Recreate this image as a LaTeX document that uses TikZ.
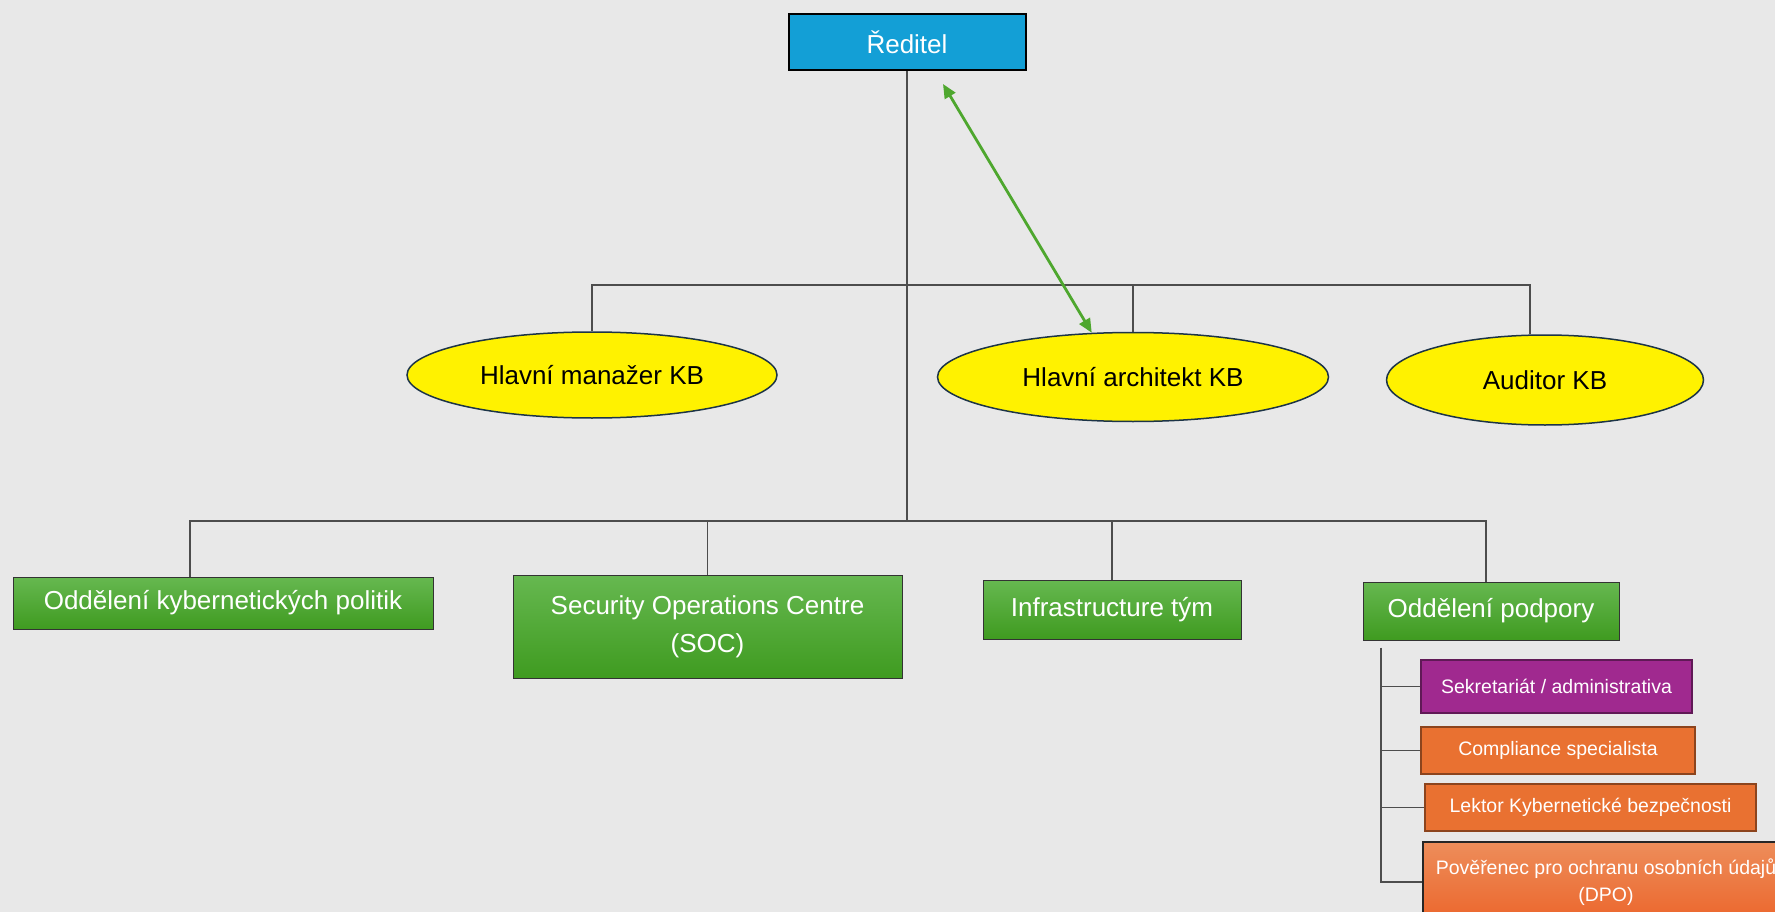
\documentclass[tikz,border=0pt]{standalone}
\usepackage{fontspec}
\setmainfont{Liberation Sans}
\usetikzlibrary{arrows.meta,shapes.geometric}
\definecolor{pozadi}{HTML}{E8E8E8}
\definecolor{modra}{HTML}{139FD6}
\definecolor{zelhore}{HTML}{66B850}
\definecolor{zeldole}{HTML}{3F9B20}
\definecolor{fialova}{HTML}{A0298F}
\definecolor{oranzova}{HTML}{E97131}
\definecolor{obrys}{HTML}{1C3447}
\definecolor{cara}{HTML}{4D4D4D}
\definecolor{sipka}{HTML}{4EA72E}

\begin{document}
\begin{tikzpicture}
[x=1pt, y=-1pt,
       font=\fontsize{26}{38}\selectfont,
       reditelbox/.style={draw=black, line width=2pt, fill=modra, text=white,
                          minimum width=237pt, minimum height=56pt, inner sep=0pt},
       vedouci/.style={ellipse, draw=obrys, line width=1.5pt, fill=yellow, text=black, inner sep=0pt},
       oddeleni/.style={draw=black!80, line width=1pt, top color=zelhore, bottom color=zeldole,
                        text=white, align=center, inner sep=0pt},
       podbox/.style={draw=#1!60!black, line width=1.2pt, fill=#1, text=white, align=center,
                      inner sep=0pt, font=\fontsize{19.5}{27}\selectfont},
       spoj/.style={draw=cara, line width=1.3pt},
       obousmerna/.style={draw=sipka, line width=2.8pt, {Triangle[length=14pt,width=12pt]}-{Triangle[length=14pt,width=12pt]}}]
  \useasboundingbox (0,0) rectangle (1775,912);
  \clip (0,0) rectangle (1775,912);
  \fill[pozadi] (0,0) rectangle (1775,912);

  \node[reditelbox] (reditel) at (907,42) {Ředitel}; % root

  % vedeni
  \node[vedouci, minimum width=370pt, minimum height=86pt] (manazer) at (592,375) {Hlavní manažer KB};
  \node[vedouci, minimum width=391pt, minimum height=89pt] (architekt) at (1133,377) {Hlavní architekt KB};
  \node[vedouci, minimum width=317pt, minimum height=90pt] (auditor) at (1545,380) {Auditor KB};

  % oddeleni
  \node[oddeleni, minimum width=420pt, minimum height=52pt] (politik) at (223,603) {Oddělení kybernetických politik};
  \node[oddeleni, minimum width=389pt, minimum height=103pt] (soc) at (707.5,626.5) {Security Operations Centre\\(SOC)};
  \node[oddeleni, minimum width=258pt, minimum height=59pt] (infra) at (1112,609.5) {Infrastructure tým};
  \node[oddeleni, minimum width=256pt, minimum height=58pt] (podpora) at (1491,611) {Oddělení podpory};

  % podpora
  \node[podbox=fialova, minimum width=271pt, minimum height=53pt] (sekretariat) at (1556.5,686.5) {Sekretariát / administrativa};
  \node[podbox=oranzova, minimum width=274pt, minimum height=47pt] (compliance) at (1558,750.5) {Compliance specialista};
  \node[podbox=oranzova, minimum width=331pt, minimum height=47pt] (lektor) at (1590.5,807.5) {Lektor Kybernetické bezpečnosti};
  \node[podbox=oranzova, draw=black!85, top color=oranzova!80!white, bottom color=oranzova!90!red,
        minimum width=366pt, minimum height=80pt] (dpo) at (1606,882) {Pověřenec pro ochranu osobních údajů\\(DPO)};

  % spoje
  \coordinate (horni) at (reditel.south |- 0,285);
  \coordinate (dolni) at (reditel.south |- 0,521);
  \coordinate (pod) at ([shift={(-110,7)}]podpora.south);
  \draw[spoj] (reditel.south) -- (dolni);
  \draw[spoj] (manazer.north) |- (horni) -| ([xshift=-15pt]auditor.north);
  \draw[spoj] (architekt.north) -- (architekt.north |- horni);
  \draw[spoj] ([xshift=-33pt]politik.north) |- (dolni) -| ([xshift=-5pt]podpora.north);
  \draw[spoj] (soc.north) -- (soc.north |- dolni);
  \draw[spoj] (infra.north) -- (infra.north |- dolni);
  \draw[spoj] (pod) |- (dpo.west);
  \foreach \n in {sekretariat,compliance,lektor}
    \draw[spoj] (\n.west) -- (\n.west -| pod);

  \draw[obousmerna] ([shift={(36,13)}]reditel.south) -- (architekt.133);
\end{tikzpicture}
\end{document}
